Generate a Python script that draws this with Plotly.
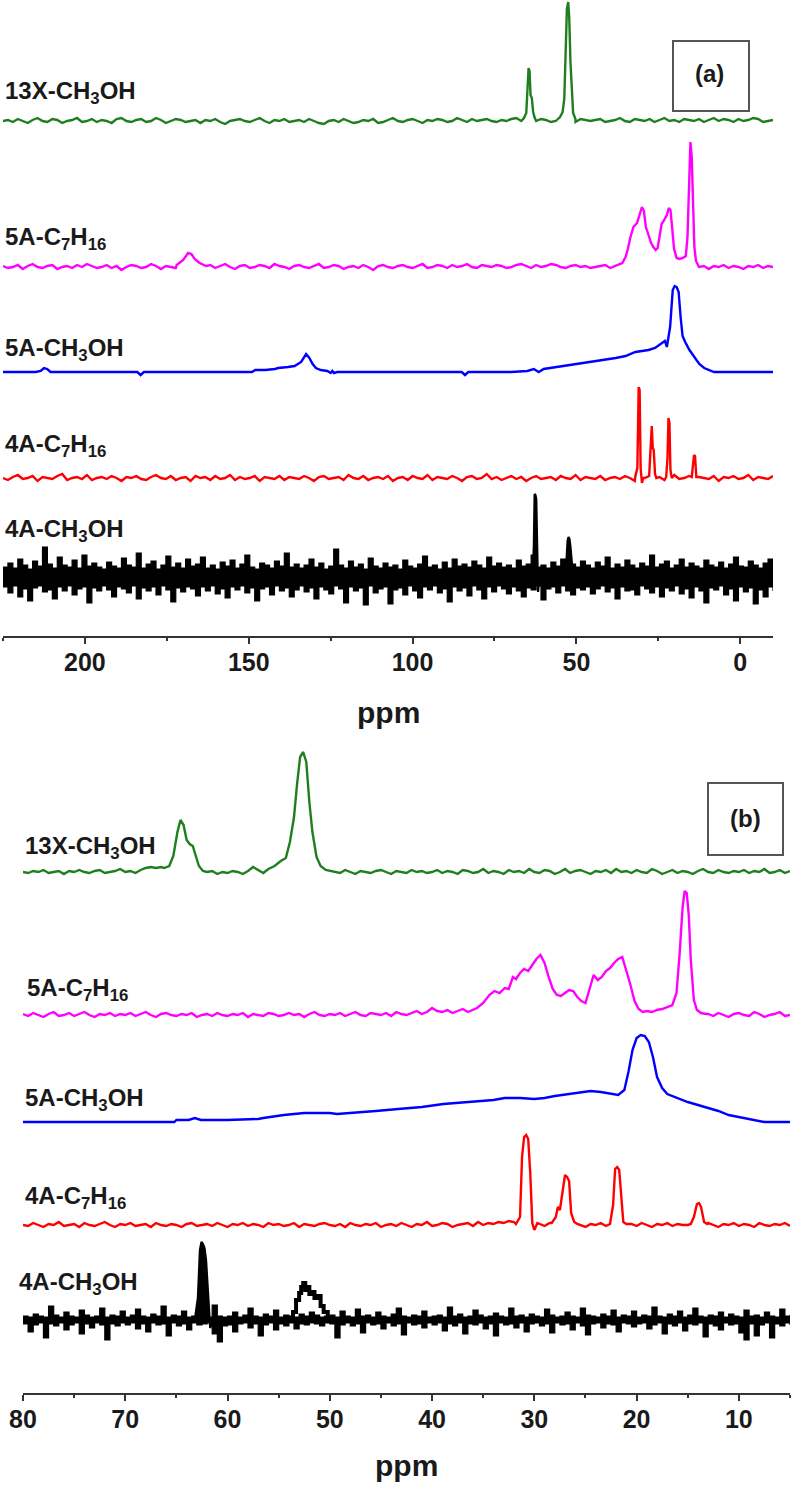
import plotly.graph_objects as go

# ---------------- DATA ----------------
# intensities are heights above each spectrum's baseline (arbitrary units)
# Panel (a): 225 .. -10 ppm
A_RANGE = [225, -10]
A_TICKS = [200, 150, 100, 50, 0]
A_MINOR = [225, 175, 125, 75, 25]

A_GREEN_NOISE = [0,1,-1,2,0,-2,1,3,0,-1,2,1,-2,0,1,3,-1,0,2,-1,
                 1,0,-2,2,3,0,-1,1,2,-1,0,3,1,-2,0,2,1,-1,0,1,
                 -2,1,0,2,-1,-3,0,1,2,0,-1,1,3,0,-2,1,0,2,-1,0,
                 1,-1,2,0,-2,-3,0,1,-1,2,0,-2,-1,1,0,2,-2,-1,1,3,
                 0,-1,1,2,0,-2,1,0,2,1,-1,0,3,1,-1,2,0,1,2,0,
                 -1,1,0,2,3,0,-1,1,0,2,1,-1,0,1,2,0,-1,2,1,0,
                 1,2,-1,0,1,3,0,-1,2,1,0,2,-1,1,3,0,1,-1,2,1,
                 0,2,-1,1,3,0,2,1,-1,2,0,1,3,2,-1,0,1]
A_GREEN_PK1_PPM = [66.0, 65.3, 64.9, 64.6, 64.3, 64.0, 63.6, 63.2, 62.8, 62.3]
A_GREEN_PK1_INT = [3, 8, 28, 53, 50, 26, 23, 9, 4, 0]
A_GREEN_PK2_PPM = [55.0, 54.2, 53.7, 53.3, 52.9, 52.5, 52.2, 51.8, 51.4, 51.0, 50.3]
A_GREEN_PK2_INT = [4, 9, 22, 58, 112, 119, 104, 58, 24, 8, 2]

A_MAG_NOISE = [1,-1,0,2,-2,1,3,0,-1,1,2,-2,0,1,-1,2,0,3,1,-1,
               0,2,-1,1,-3,0,2,1,-1,0,3,1,-2,1,0,-1,2,0,1,-2,
               1,0,2,-1,1,3,0,-2,1,2,-1,0,2,1,-1,3,1,0,-2,1,
               2,0,-1,1,3,-1,0,2,1,-2,0,1,-1,2,0,-3,1,2,0,-1,
               1,2,0,-1,1,3,-1,0,2,1,-1,2,0,1,3,0,-1,2,1,0,
               2,1,-1,0,2,3,1,-1,2,0,1,3,2,0,-1,1,2,0,1,-1,
               0,1,2,-1,1,0,2,-2,1,0,-1,2,1,-1,0,1,-2,0,1,2,
               -1,0,1,-2,1,0,2,-1,1,0,-2,1,0,2,-1,1,0]
A_MAG_PK1_PPM = [172, 170, 168.5, 167.5, 166.5, 165, 163]
A_MAG_PK1_INT = [2, 7, 14, 13, 8, 4, 1]
A_MAG_PK2_PPM = [37, 36, 35, 34.3, 33.5, 32.6, 31.5, 30.6, 30.0, 29.4, 28.8, 28.0,
                 27.2, 26.5, 25.8, 25.2, 24.6, 24.0, 23.2, 22.4, 21.8, 21.3, 20.8,
                 20.2, 19.4, 18.5, 17.5, 16.6, 16.1, 15.6, 15.2, 14.8, 14.4, 14.0,
                 13.5, 12.8]
A_MAG_PK2_INT = [2, 4, 10, 18, 30, 40, 44, 55, 60, 56, 40, 32,
                 24, 20, 17, 19, 30, 43, 47, 52, 59, 57, 40,
                 18, 9, 8, 9, 11, 30, 87, 125, 110, 57, 20,
                 6, 2]

A_BLUE_PPM = [225, 215, 213.5, 212.5, 211.5, 210.5, 200, 184, 183, 182,
              160, 149, 148, 145, 142, 141, 138, 136, 134, 132.5,
              131.5, 130.5, 129.5, 128, 126, 125, 124.5, 124, 123, 100,
              85, 84, 83, 70, 65, 63, 61.5, 60, 58, 55,
              52, 50, 48, 45, 42, 38, 35, 32, 30, 28,
              26, 24, 23, 22.4, 21.4, 20.6, 20.0, 19.4, 18.8, 18.2,
              17.6, 16.8, 15.5, 14, 12.5, 11, 9.5, 8, 0, -10]
A_BLUE_INT = [0, 0, 1, 4, 3, 0, 0, 0, -3, 0,
              0, 0, 2, 2, 3, 4, 5, 6, 10, 18,
              14, 8, 4, 2, 1, -1, 1, -1, 0, 0,
              0, -3, 0, 0, 1, 3, 0, 3, 4, 5,
              7, 8, 9, 10, 12, 14, 16, 20, 21, 22,
              24, 29, 31, 25, 45, 82, 86, 85, 80, 55,
              36, 30, 22, 15, 8, 4, 2, 0, 0, 0]

A_RED_NOISE = [0,-2,1,3,-1,0,2,-3,1,0,-1,2,4,-2,0,1,-1,3,-2,0,
               1,-1,2,0,-3,1,0,2,-1,-2,1,3,0,-1,2,-2,0,1,-3,2,
               0,1,-2,2,-1,0,3,-2,1,-1,0,2,-3,1,0,-1,2,-2,1,0,
               -1,2,0,-3,1,2,-1,0,1,-2,3,0,-1,2,-2,0,1,-1,2,-3,
               0,1,-2,2,0,-1,3,-2,1,0,-1,2,0,-3,1,2,-1,0,4,-1,
               1,-2,0,2,-1,1,-3,0,2,-1,0,1,-2,2,0,-1,3,-2,1,0,
               -1,2,-2,0,1,-1,2,0,-3,1,0,2,-1,1,-2,0,3,-1,0,2,
               -2,1,0,-1,2,-3,1,0,2,-1,0,3,-2,1,0,-1,2]
A_RED_PK1_PPM = [32.0, 31.4, 31.0, 30.7, 30.4, 30.0, 29.6]
A_RED_PK1_INT = [2, 10, 91, 88, 10, -5, 0]
A_RED_PK2_PPM = [27.8, 27.4, 27.0, 26.7, 26.4, 26.0, 25.6]
A_RED_PK2_INT = [2, 25, 52, 30, 28, 4, 0]
A_RED_PK3_PPM = [22.6, 22.2, 21.9, 21.6, 21.3, 20.9]
A_RED_PK3_INT = [1, 20, 60, 55, 8, 0]
A_RED_PK4_PPM = [14.8, 14.4, 14.1, 13.8, 13.4]
A_RED_PK4_INT = [1, 12, 23, 22, 1]

# black (a): the dense noise is drawn as a band between an upper and a lower envelope
A_BLACK_UPPER = [10,14,9,18,12,8,16,11,30,13,9,20,12,10,17,9,22,11,14,10,
                 8,15,11,9,19,12,10,24,9,13,16,8,12,21,10,14,9,18,11,13,
                 20,9,12,8,15,11,17,9,13,22,10,8,14,12,9,16,11,24,10,13,
                 9,12,18,10,14,8,11,28,12,9,16,10,13,8,19,11,9,14,10,12,
                 8,17,11,9,13,21,10,12,8,15,9,18,11,13,10,16,12,9,20,11,
                 14,10,12,9,17,11,13,22,10,12,9,15,11,18,9,13,10,16,12,9,
                 15,11,20,9,13,10,17,12,9,14,11,22,10,13,16,9,12,18,10,14,
                 11,9,17,12,10,15,9,13,20,11,10,16,12,9,14,18,11]
A_BLACK_LOWER = [-10,-16,-9,-20,-12,-24,-11,-9,-15,-13,-22,-10,-14,-9,-18,-12,-10,-26,-11,-14,
                 -9,-13,-20,-10,-12,-16,-9,-22,-11,-14,-10,-18,-9,-13,-25,-11,-15,-10,-12,-19,
                 -10,-14,-9,-17,-12,-21,-10,-13,-9,-16,-11,-24,-12,-10,-18,-9,-14,-11,-20,-13,
                 -9,-15,-11,-22,-10,-13,-17,-9,-12,-26,-10,-14,-11,-28,-9,-16,-12,-10,-27,-13,
                 -11,-18,-9,-14,-21,-10,-13,-9,-16,-12,-25,-10,-14,-11,-19,-9,-13,-22,-10,-15,
                 -9,-12,-17,-10,-14,-20,-11,-13,-9,-23,-12,-10,-16,-9,-14,-18,-11,-13,-10,-17,
                 -12,-9,-15,-11,-22,-10,-14,-13,-18,-9,-12,-16,-10,-20,-11,-14,-9,-17,-12,-21,
                 -10,-14,-26,-11,-13,-9,-18,-12,-24,-10,-15,-11,-27,-13,-20,-10,-14]
A_BLACK_PK1_PPM = [63.4, 63.0, 62.75, 62.5, 62.25, 62.0, 61.7, 61.3]
A_BLACK_PK1_INT = [0, 30, 83, 82, 78, 20, -15, 0]
A_BLACK_PK2_PPM = [53.3, 52.7, 52.4, 52.1, 51.8, 51.4, 51.0]
A_BLACK_PK2_INT = [0, 36, 40, 38, 30, 12, 0]

# Panel (b): 80 .. 5 ppm
B_RANGE = [80, 5]
B_TICKS = [80, 70, 60, 50, 40, 30, 20, 10]
B_MINOR = [75, 65, 55, 45, 35, 25, 15, 5]

B_GREEN_NOISE = [0,-1,1,0,2,-1,0,1,-2,1,0,2,0,-1,1,2,-1,0,1,3,
                 0,1,-1,2,4,5,4,5,6,2,3,1,2,0,1,-1,0,1,-2,0,
                 -1,1,0,-2,1,5,2,-1,1,0,2,2,-1,1,0,3,2,1,0,-1,
                 1,0,-1,2,0,-2,1,0,-1,1,2,0,-2,1,0,-1,2,0,1,-1,
                 0,2,-1,1,0,-2,2,1,-1,0,3,-1,1,0,-2,2,0,1,-1,3,
                 0,-1,2,1,-2,0,3,-1,1,2,0,-2,1,0,2,-1,3,0,1,-1,
                 2,0,-1,3,1,-2,0,2,-1,1,0,-2,1,3,0,-1,2,0,-1,1,
                 0,2,-1,1,0,3,-1,0,2,-1,1]
B_GREEN_PK1_PPM = [66.2, 65.7, 65.3, 64.9, 64.6, 64.3, 64.0, 63.7, 63.4, 63.1, 62.8, 62.4]
B_GREEN_PK1_INT = [4, 6, 16, 40, 52, 47, 32, 28, 26, 16, 6, 1]
B_GREEN_PK2_PPM = [56.0, 55.4, 54.8, 54.3, 53.9, 53.5, 53.2, 52.9, 52.6, 52.3, 52.0, 51.7, 51.3, 50.9, 50.4]
B_GREEN_PK2_INT = [3, 6, 11, 14, 30, 55, 88, 115, 120, 110, 70, 40, 15, 6, 2]

B_MAG_NOISE = [1,-1,2,0,-2,1,3,-1,0,2,-1,1,3,0,-2,1,0,2,-1,1,
               0,2,-1,1,3,0,-2,1,2,0,-1,1,0,2,-2,0,1,-1,2,0,
               -1,1,0,2,-2,1,0,-1,2,1,-1,0,2,0,1,-2,1,3,0,-1,
               1,0,2,-1,1,3,0,-1,2,1,0,2,-1,3,1,0,2,4,1,3,
               7,4,3,5,2,4,6,3,5,8,10,12,15,20,25,30,35,40,45,50,
               50,45,40,35,30,25,20,20,22,25,20,15,25,35,40,45,50,55,40,20,
               10,5,3,4,3,5,6,8,10,20,50,100,120,60,1,-1,2,0,-2,1,
               2,0,-1,3,1,-2,0,1,3,-1,0]
B_MAG_PK_PPM = [36.5, 35.6, 35.0, 34.4, 33.9, 33.4, 32.9, 32.5, 32.1, 31.8,
                31.4, 31.0, 30.6, 30.2, 29.8, 29.4, 29.0, 28.6, 28.2, 27.8,
                27.4, 27.0, 26.6, 26.2, 25.8, 25.4, 25.0, 24.6, 24.2, 23.8,
                23.4, 23.0, 22.6, 22.2, 21.8, 21.4, 21.0, 20.6, 20.2, 19.8,
                19.4, 19.0, 18.5, 18.0, 17.5, 17.0, 16.5, 16.1, 15.8, 15.5,
                15.3, 15.1, 14.9, 14.7, 14.4, 14.1, 13.7, 13.2]
B_MAG_PK_INT = [3, 7, 12, 20, 24, 22, 27, 26, 38, 36,
                42, 46, 44, 50, 56, 60, 52, 38, 26, 20,
                19, 22, 25, 24, 18, 14, 12, 26, 40, 35,
                38, 44, 47, 52, 56, 58, 45, 30, 14, 6,
                3, 4, 3, 5, 6, 8, 10, 22, 60, 108,
                124, 122, 100, 55, 15, 5, 2, 1]

B_BLUE_PPM = [80, 70, 65.2, 65.0, 63.8, 63.2, 62.6, 60, 57, 56.5,
              54.5, 52.5, 50, 49.3, 46, 45.5, 43.3, 41, 38.9, 36.2,
              34, 32.9, 31.4, 30, 29, 28, 26, 24.5, 23.5, 22.5,
              21.8, 21.2, 20.8, 20.4, 20.0, 19.6, 19.2, 18.8, 18.4, 18.0,
              17.5, 17.0, 16.0, 15.0, 14.0, 13.0, 12.0, 11.0, 10.0, 9.0,
              8.0, 7.5, 5]
B_BLUE_INT = [0, 0, 0, 2, 2, 4, 2, 2, 3, 4,
              7, 9, 9, 8, 10, 11, 13, 15, 18, 20,
              22, 24, 24, 23, 24, 26, 29, 31, 30, 28,
              27, 32, 50, 72, 84, 87, 86, 80, 65, 45,
              34, 28, 24, 20, 17, 14, 11, 7, 5, 3,
              1, 0, 0]

B_RED_NOISE = [0,-1,2,0,-2,1,0,3,-1,0,1,-2,2,0,-1,1,3,0,-2,1,
               0,2,-1,0,1,-2,2,0,-1,1,0,-2,1,2,-1,0,1,-1,2,0,
               -2,1,0,2,-1,1,0,-2,2,0,1,-1,0,2,-2,1,0,-1,1,2,
               0,-1,1,-2,2,0,-1,1,0,2,-2,0,1,-1,2,0,-2,1,0,3,
               -1,0,2,1,-2,0,1,2,-1,3,0,2,1,3,2,4,3,0,0,0,
               0,1,-1,2,0,0,0,0,0,0,-2,1,0,2,-1,0,0,0,0,1,
               -1,2,0,-2,1,0,2,-1,1,0,0,0,0,-1,2,0,-2,1,0,2,
               -1,1,0,-2,2,0,-1,1,0,2,-1]
B_RED_PK1_PPM = [31.8, 31.4, 31.2, 31.0, 30.8, 30.6, 30.4, 30.2, 30.0, 29.7]
B_RED_PK1_INT = [1, 8, 68, 88, 90, 86, 52, 2, -5, 2]
B_RED_PK2_PPM = [28.3, 27.9, 27.7, 27.5, 27.2, 27.0, 26.8, 26.6, 26.4, 26.1, 25.8]
B_RED_PK2_INT = [2, 8, 18, 15, 35, 50, 48, 44, 12, 3, 1]
B_RED_PK3_PPM = [22.6, 22.3, 22.1, 21.9, 21.7, 21.5, 21.3, 21.0]
B_RED_PK3_INT = [1, 20, 56, 58, 55, 26, 3, 1]
B_RED_PK4_PPM = [14.7, 14.4, 14.1, 13.9, 13.7, 13.4, 13.1]
B_RED_PK4_INT = [1, 8, 21, 22, 18, 3, 1]

# black (b): band between upper and lower envelopes
B_BLACK_UPPER = [4,3,6,4,3,14,5,3,8,4,3,10,5,3,4,12,3,5,4,9,
                 3,5,11,4,3,6,4,14,3,5,4,9,3,4,12,5,3,15,4,3,
                 4,8,3,5,12,4,3,6,4,10,3,5,4,3,6,4,8,5,3,4,
                 5,3,9,4,3,11,4,5,3,8,4,3,6,12,4,3,5,4,9,3,
                 4,5,3,13,4,6,3,4,10,5,3,4,7,4,3,12,4,5,3,6,
                 4,3,11,5,3,4,8,4,3,12,5,4,3,6,4,10,3,5,4,9,
                 3,5,4,13,4,3,6,4,9,3,5,12,4,3,5,4,8,3,6,4,
                 3,10,4,5,3,8,4,3,11,4,5]
B_BLACK_LOWER = [-4,-12,-5,-3,-18,-4,-6,-3,-10,-5,-3,-14,-4,-8,-3,-5,-20,-4,-6,-3,
                 -5,-3,-9,-4,-12,-3,-5,-4,-16,-3,-6,-4,-10,-3,-5,-4,-3,-14,-22,-6,
                 -5,-12,-4,-3,-8,-4,-16,-5,-3,-10,-4,-6,-3,-9,-4,-5,-3,-4,-6,-3,
                 -4,-18,-5,-3,-6,-4,-13,-3,-5,-4,-9,-3,-6,-4,-15,-3,-5,-4,-8,-3,
                 -5,-3,-11,-4,-6,-3,-14,-4,-5,-3,-9,-4,-16,-3,-5,-4,-8,-3,-12,-4,
                 -3,-6,-4,-13,-3,-5,-4,-10,-3,-6,-15,-4,-3,-8,-4,-5,-12,-3,-4,-7,
                 -4,-3,-9,-5,-3,-14,-4,-6,-3,-11,-4,-5,-3,-17,-4,-6,-10,-3,-5,-4,
                 -13,-20,-4,-16,-5,-3,-18,-4,-6,-3,-5]
B_BLACK_PK1_PPM = [63.2, 62.9, 62.7, 62.55, 62.4, 62.25, 62.1, 61.9, 61.7, 61.4]
B_BLACK_PK1_INT = [0, 22, 70, 78, 76, 72, 60, 22, -8, 0]
B_BLACK_PK2_PPM = [54.0, 53.6, 53.3, 53.0, 52.8, 52.6, 52.4, 52.2, 52.0, 51.8, 51.5, 51.2, 50.9, 50.6, 50.2]
B_BLACK_PK2_INT = [0, 8, 20, 27, 33, 37, 30, 33, 26, 28, 22, 24, 14, 8, 0]

LABELS = ["13X-CH<sub>3</sub>OH", "5A-C<sub>7</sub>H<sub>16</sub>", "5A-CH<sub>3</sub>OH",
          "4A-C<sub>7</sub>H<sub>16</sub>", "4A-CH<sub>3</sub>OH"]
COLORS = ["#1f7f1f", "#ff00ff", "#0000ff", "#ff0000", "#000000"]

# ---------------- LAYOUT CONSTANTS (pixels) ----------------
W, H = 792, 1490
def px(x):
    return x / W
def py(y):
    return 1 - y / H

A_AXIS_PX, A_TOP_PX = 636, 0
B_AXIS_PX, B_TOP_PX = 1393, 740
A_OFFSETS = [515, 369, 264, 158, 59]      # baseline heights above axis
B_OFFSETS = [521, 378, 271, 168, 73]
A_LABEL_Y = [92, 238, 349, 446, 531]
B_LABEL_Y = [847, 989, 1099, 1197, 1283]
A_LABEL_X = [3, 3, 3, 3, 3]
B_LABEL_X = [23, 25, 23, 23, 17]


def build(noise, start, end, peaks):
    n = len(noise)
    step = (start - end) / (n - 1)
    ppm = [start - i * step for i in range(n)]
    pts = []
    for p, v in zip(ppm, noise):
        if any(min(pp) <= p <= max(pp) for pp, _ in peaks):
            continue
        pts.append((p, v))
    for pp, vv in peaks:
        assert len(pp) == len(vv)
        pts.extend(zip(pp, vv))
    pts.sort(key=lambda t: -t[0])
    return [p for p, _ in pts], [v for _, v in pts]


def grid(vals, start, end):
    n = len(vals)
    step = (start - end) / (n - 1)
    return [start - i * step for i in range(n)]


A_SERIES = [
    build(A_GREEN_NOISE, 225, -10, [(A_GREEN_PK1_PPM, A_GREEN_PK1_INT), (A_GREEN_PK2_PPM, A_GREEN_PK2_INT)]),
    build(A_MAG_NOISE, 225, -10, [(A_MAG_PK1_PPM, A_MAG_PK1_INT), (A_MAG_PK2_PPM, A_MAG_PK2_INT)]),
    (A_BLUE_PPM, A_BLUE_INT),
    build(A_RED_NOISE, 225, -10, [(A_RED_PK1_PPM, A_RED_PK1_INT), (A_RED_PK2_PPM, A_RED_PK2_INT),
                                  (A_RED_PK3_PPM, A_RED_PK3_INT), (A_RED_PK4_PPM, A_RED_PK4_INT)]),
]
B_SERIES = [
    build(B_GREEN_NOISE, 80, 5, [(B_GREEN_PK1_PPM, B_GREEN_PK1_INT), (B_GREEN_PK2_PPM, B_GREEN_PK2_INT)]),
    build(B_MAG_NOISE, 80, 5, [(B_MAG_PK_PPM, B_MAG_PK_INT)]),
    (B_BLUE_PPM, B_BLUE_INT),
    build(B_RED_NOISE, 80, 5, [(B_RED_PK1_PPM, B_RED_PK1_INT), (B_RED_PK2_PPM, B_RED_PK2_INT),
                               (B_RED_PK3_PPM, B_RED_PK3_INT), (B_RED_PK4_PPM, B_RED_PK4_INT)]),
]
# (ppm, intensity, filled?) for the peaks drawn over the black noise bands
A_BLACK_PEAKS = [(A_BLACK_PK1_PPM, A_BLACK_PK1_INT, True), (A_BLACK_PK2_PPM, A_BLACK_PK2_INT, True)]
B_BLACK_PEAKS = [(B_BLACK_PK1_PPM, B_BLACK_PK1_INT, True), (B_BLACK_PK2_PPM, B_BLACK_PK2_INT, False)]

fig = go.Figure()


def add_band(upper, lower, start, end, off, xa, ya):
    xs = grid(lower, start, end)
    fig.add_trace(go.Scatter(x=xs, y=[v + off for v in lower], mode="lines",
                             line=dict(color="#000000", width=1.2, shape="hv"),
                             xaxis=xa, yaxis=ya, showlegend=False, hoverinfo="skip"))
    xs2 = grid(upper, start, end)
    fig.add_trace(go.Scatter(x=xs2, y=[v + off for v in upper], mode="lines",
                             line=dict(color="#000000", width=1.2, shape="hv"),
                             fill="tonexty", fillcolor="#000000",
                             xaxis=xa, yaxis=ya, showlegend=False, hoverinfo="skip"))


def add_black_peaks(peaks, off, xa, ya):
    for pp, vv, filled in peaks:
        assert len(pp) == len(vv)
        if filled:
            fig.add_trace(go.Scatter(x=pp, y=[v + off for v in vv], mode="lines",
                                     line=dict(color="#000000", width=2.2),
                                     fill="toself", fillcolor="#000000",
                                     xaxis=xa, yaxis=ya, showlegend=False, hoverinfo="skip"))
        else:
            fig.add_trace(go.Scatter(x=pp, y=[v + off for v in vv], mode="lines",
                                     line=dict(color="#000000", width=4, shape="hv"),
                                     xaxis=xa, yaxis=ya, showlegend=False, hoverinfo="skip"))


add_band(A_BLACK_UPPER, A_BLACK_LOWER, 225, -10, A_OFFSETS[4], "x", "y")
add_black_peaks(A_BLACK_PEAKS, A_OFFSETS[4], "x", "y")
add_band(B_BLACK_UPPER, B_BLACK_LOWER, 80, 5, B_OFFSETS[4], "x2", "y2")
add_black_peaks(B_BLACK_PEAKS, B_OFFSETS[4], "x2", "y2")

for (xs, ys), off, col in zip(A_SERIES, A_OFFSETS, COLORS):
    fig.add_trace(go.Scatter(x=xs, y=[v + off for v in ys], mode="lines",
                             line=dict(color=col, width=2.4), xaxis="x", yaxis="y",
                             showlegend=False, hoverinfo="skip"))
for (xs, ys), off, col in zip(B_SERIES, B_OFFSETS, COLORS):
    fig.add_trace(go.Scatter(x=xs, y=[v + off for v in ys], mode="lines",
                             line=dict(color=col, width=2.4), xaxis="x2", yaxis="y2",
                             showlegend=False, hoverinfo="skip"))

TEXT = "#1a1a1a"
AX = "#333333"
FONT = "Liberation Sans"

def xaxis(domain, rng, ticks, minor, anchor):
    return dict(domain=domain, range=rng, anchor=anchor, showgrid=False, zeroline=False,
                automargin=False,
                showline=True, linecolor=AX, linewidth=2,
                tickmode="array", tickvals=ticks, ticks="outside", ticklen=6,
                tickwidth=2, tickcolor=AX, ticklabelstandoff=-3,
                tickfont=dict(family=FONT, size=25, color=TEXT, weight="bold"),
                minor=dict(tickvals=minor, ticks="outside", ticklen=3, tickwidth=2, tickcolor=AX))

fig.update_layout(
    width=W, height=H, autosize=False,
    margin=dict(l=0, r=0, t=0, b=0, pad=0, autoexpand=False),
    paper_bgcolor="white", plot_bgcolor="white",
    xaxis=xaxis([px(3), px(773)], A_RANGE, A_TICKS, A_MINOR, "y"),
    yaxis=dict(domain=[py(A_AXIS_PX), py(A_TOP_PX)], range=[0, A_AXIS_PX - A_TOP_PX],
               visible=False, fixedrange=True, automargin=False),
    xaxis2=xaxis([px(23), px(790)], B_RANGE, B_TICKS, B_MINOR, "y2"),
    yaxis2=dict(domain=[py(B_AXIS_PX), py(B_TOP_PX)], range=[0, B_AXIS_PX - B_TOP_PX],
                visible=False, fixedrange=True, automargin=False),
)

ann = []
for lab, lx, ly in zip(LABELS, A_LABEL_X, A_LABEL_Y):
    ann.append(dict(text="<b>" + lab + "</b>", x=px(lx), y=py(ly), xref="paper", yref="paper",
                    xanchor="left", yanchor="middle", showarrow=False,
                    font=dict(family=FONT, size=24, color=TEXT)))
for lab, lx, ly in zip(LABELS, B_LABEL_X, B_LABEL_Y):
    ann.append(dict(text="<b>" + lab + "</b>", x=px(lx), y=py(ly), xref="paper", yref="paper",
                    xanchor="left", yanchor="middle", showarrow=False,
                    font=dict(family=FONT, size=24, color=TEXT)))
for cx, cy in [(388, 712), (407, 1465)]:
    ann.append(dict(text="<b>ppm</b>", x=px(cx), y=py(cy), xref="paper", yref="paper",
                    xanchor="center", yanchor="middle", showarrow=False,
                    font=dict(family=FONT, size=30, color=TEXT)))
for t, cx, cy in [("(a)", 709, 73), ("(b)", 745, 818)]:
    ann.append(dict(text="<b>" + t + "</b>", x=px(cx), y=py(cy), xref="paper", yref="paper",
                    xanchor="center", yanchor="middle", showarrow=False,
                    font=dict(family=FONT, size=24, color=TEXT)))
fig.update_layout(annotations=ann)

fig.update_layout(shapes=[
    dict(type="rect", xref="paper", yref="paper", x0=px(673), x1=px(749), y0=py(111), y1=py(41),
         line=dict(color="#555555", width=2)),
    dict(type="rect", xref="paper", yref="paper", x0=px(708), x1=px(783), y0=py(855), y1=py(783),
         line=dict(color="#555555", width=2)),
])

fig.write_html("out.html", config={"displayModeBar": False},
               post_script="document.body.style.margin='0';document.body.style.padding='0';"
                           "document.body.style.overflow='hidden';")
